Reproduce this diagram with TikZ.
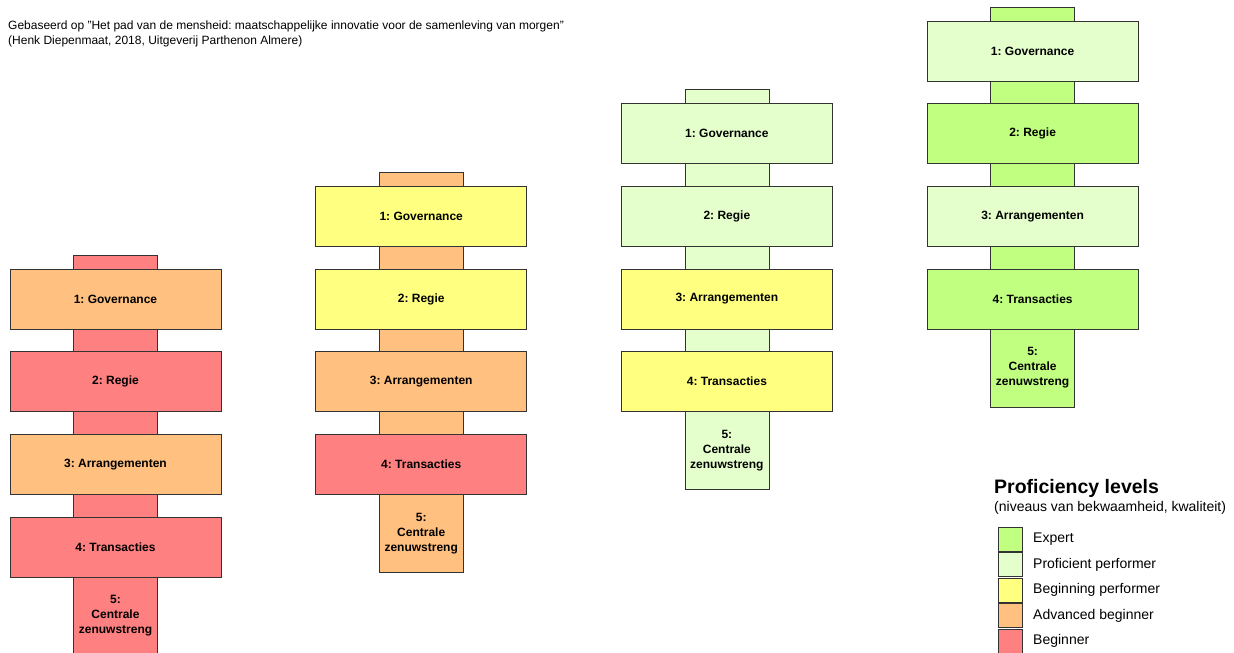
\documentclass[tikz,border=0pt]{standalone}
\usepackage{fontspec}
\usepackage{tikz}
\usetikzlibrary{positioning}
\setmainfont{Liberation Sans}
\frenchspacing

\definecolor{expert}{HTML}{C0FF80}
\definecolor{proficient}{HTML}{E5FFCC}
\definecolor{beginning}{HTML}{FFFF80}
\definecolor{advanced}{HTML}{FFC080}
\definecolor{beginner}{HTML}{FF8080}

\begin{document}
\begin{tikzpicture}[x=1pt, y=-1pt, node distance=22.67pt,
  stage/.style={draw=black!80, line width=0.75pt, minimum width=211pt, minimum height=60pt, inner sep=0pt, outer sep=0pt, font=\fontsize{12}{15}\selectfont\bfseries},
  spine/.style={draw=black!80, line width=0.75pt, minimum width=84pt, minimum height=400pt, inner sep=0pt},
  nerve/.style={align=center, inner sep=0pt, font=\fontsize{12}{15}\selectfont\bfseries},
  swatch/.style={draw=black!80, line width=0.75pt, minimum size=24pt, inner sep=0pt},
  legendtext/.style={anchor=west, inner sep=0pt, font=\fontsize{14}{16}\selectfont}]
\useasboundingbox (0,0) rectangle (1234,653);

% source
\node[anchor=north west, align=left, inner sep=0pt, font=\fontsize{12}{14.5}\selectfont] (source) at (8,21)
  {Gebaseerd op "Het pad van de mensheid: maatschappelijke innovatie voor de samenleving van morgen"\\(Henk Diepenmaat, 2018, Uitgeverij Parthenon Almere)};

% the four columns: spine colour, then levels 1 to 4
\foreach \k/\sc/\ca/\cb/\cc/\cd in {0/beginner/advanced/beginner/advanced/beginner,
  1/advanced/beginning/beginning/advanced/beginner,
  2/proficient/proficient/proficient/beginning/beginning,
  3/expert/proficient/expert/proficient/expert}{
  \node[spine, fill=\sc] (spine\k) at ({115.5+305.7*\k},{455-82.67*\k}) {};
  \node[stage, fill=\ca] (gov\k) at ({115.5+305.7*\k},{299-82.67*\k}) {1: Governance};
  \node[stage, fill=\cb, below=of gov\k] (regie\k) {2: Regie};
  \node[stage, fill=\cc, below=of regie\k] (arr\k) {3: Arrangementen};
  \node[stage, fill=\cd, below=of arr\k] (trans\k) {4: Transacties};
  \node[nerve] (cns\k) at ({115.5+305.7*\k},{616-82.67*\k}) {5:\\Centrale\\zenuwstreng};
}

% legend
\node[anchor=west, inner sep=0pt, font=\fontsize{19.5}{22}\selectfont\bfseries] (legtitle) at (994,488) {Proficiency levels};
\node[legendtext] (legsub) at (994,508) {(niveaus van bekwaamheid, kwaliteit)};
\foreach \lvl/\txt [count=\i] in {expert/Expert, proficient/Proficient performer, beginning/Beginning performer, advanced/Advanced beginner, beginner/Beginner}{
  \node[swatch, fill=\lvl] (sw\i) at (1010,{513.5+25.5*\i}) {};
  \node[legendtext] (lt\i) at (1033,{513.5+25.5*\i}) {\txt};
}
\end{tikzpicture}
\end{document}
